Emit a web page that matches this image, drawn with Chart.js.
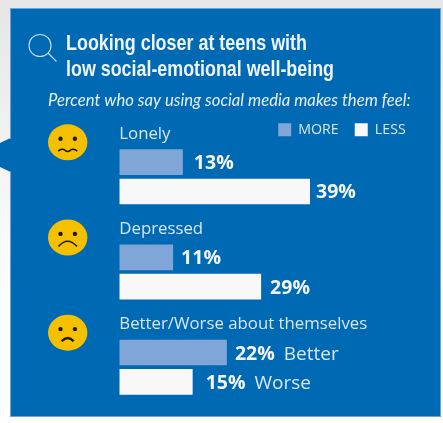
<!DOCTYPE html>
<html>
<head>
<meta charset="utf-8">
<title>Teens and social media</title>
<script src="https://cdn.jsdelivr.net/npm/chart.js@4"></script>
<style>
html, body { margin: 0; padding: 0; width: 443px; height: 423px; overflow: hidden; background: linear-gradient(#e6e6e6, #f4f4f4 40%, #ffffff 70%); }
canvas { display: block; }
</style>
</head>
<body>
<canvas id="teens" width="443" height="423"></canvas>
<script>
const titleLines = ['Looking closer at teens with', 'low social-emotional well-being'];
const subtitle = 'Percent who say using social media makes them feel:';
const categories = ['Lonely', 'Depressed', 'Better/Worse about themselves'];
const seriesNames = ['MORE', 'LESS'];
const moreValues = [13, 11, 22];
const lessValues = [39, 29, 15];
const moreNotes = ['', '', 'Better'];
const lessNotes = ['', '', 'Worse'];

const bodyFont = '"Open Sans", sans-serif';
const blue = '#0069b4';
const paleText = '#d9e7f4';
const moreColor = '#7fa6d6';
const lessColor = '#f8f8f8';
// gap between bar end and its label, it differs a bit per bar in the original
const moreGaps = [11, 8, 8];
const lessGaps = [6, 9, 13];

function drawFace(ctx, x, y, kind) {
    ctx.save();
    ctx.fillStyle = '#f5c000';
    ctx.beginPath();
    ctx.ellipse(x, y, 19.7, 18, 0, 0, Math.PI * 2);
    ctx.fill();
    ctx.fillStyle = '#1f1800';
    ctx.beginPath();
    ctx.arc(x - 7.2, y - 3.6, 2.2, 0, Math.PI * 2);
    ctx.arc(x + 7.2, y - 3.6, 2.2, 0, Math.PI * 2);
    ctx.fill();
    ctx.strokeStyle = '#1f1800';
    ctx.lineWidth = 1.6;
    ctx.beginPath();
    if (kind === 0) {
        ctx.moveTo(x - 9.5, y + 8.8);
        ctx.bezierCurveTo(x - 7, y + 6.4, x - 4, y + 6.8, x - 2.5, y + 8);
        ctx.bezierCurveTo(x - 1, y + 9.4, x + 1, y + 9.4, x + 2.5, y + 8);
        ctx.bezierCurveTo(x + 4, y + 6.8, x + 7, y + 6.4, x + 9.5, y + 8.8);
    } else if (kind === 1) {
        ctx.moveTo(x - 9.3, y + 9);
        ctx.quadraticCurveTo(x, y - 1.6, x + 9.3, y + 9);
    } else {
        ctx.lineWidth = 2.4;
        ctx.moveTo(x - 6, y + 8.5);
        ctx.quadraticCurveTo(x, y + 2, x + 6, y + 8.5);
    }
    ctx.stroke();
    ctx.restore();
}

const panelPlugin = {
    id: 'panel',
    beforeLayout(chart) {
        // legend sits over the plot, so it must not take room from it
        const fit = chart.legend.fit;
        chart.legend.fit = function () {
            fit.call(this);
            this.height = 0;
        };
    },
    afterLayout(chart) {
        chart.legend.top -= 22.5;
        chart.legend.bottom = chart.legend.top + 50;
        chart.legend.height = 50;
        chart.legend.left += 10;
        chart.legend.right += 10;
        // rounding in the row width can push the last item onto a new line
        chart.legend.lineWidths[0] += 1;
    },
    beforeDraw(chart) {
        const ctx = chart.ctx;
        ctx.save();
        ctx.fillStyle = blue;
        ctx.fillRect(10, 8, 431, 409);
        ctx.beginPath();
        ctx.moveTo(10.5, 138);
        ctx.lineTo(0, 143);
        ctx.lineTo(0, 167);
        ctx.lineTo(10.5, 172);
        ctx.closePath();
        ctx.fill();
        ctx.strokeStyle = '#6aa5d6';
        ctx.lineWidth = 1;
        ctx.strokeRect(10.5, 8.5, 430, 408);
        ctx.fillStyle = blue;
        ctx.fillRect(9, 139, 3, 32);

        // magnifier
        ctx.strokeStyle = '#c9dff1';
        ctx.lineWidth = 1.1;
        ctx.beginPath();
        ctx.arc(40, 45.5, 11, 0, Math.PI * 2);
        ctx.moveTo(48, 53);
        ctx.lineTo(56.5, 61.5);
        ctx.stroke();

        ctx.fillStyle = '#eef4fa';
        ctx.textBaseline = 'alphabetic';
        ctx.font = 'bold 22px "Liberation Sans", sans-serif';
        ctx.fillText(titleLines[0], 66, 50, 241);
        ctx.fillText(titleLines[1], 66, 76, 268);
        ctx.fillStyle = '#e6eff8';
        ctx.font = 'italic 16.7px Lato, sans-serif';
        ctx.fillText(subtitle, 48, 106);
        ctx.restore();
    },
    afterDatasetsDraw(chart) {
        const ctx = chart.ctx;
        const y = chart.scales.y;
        ctx.save();
        ctx.textBaseline = 'alphabetic';
        categories.forEach((name, i) => {
            const c = y.getPixelForValue(i);
            drawFace(ctx, 67.7, c - 34.5, i);
            ctx.fillStyle = paleText;
            ctx.font = '16.8px ' + bodyFont;
            ctx.fillText(name, chart.chartArea.left, c - 38);
        });
        [[moreValues, moreGaps, moreNotes], [lessValues, lessGaps, lessNotes]].forEach((set, d) => {
            chart.getDatasetMeta(d).data.forEach((bar, i) => {
                const text = set[0][i] + '%';
                const x = bar.x + set[1][i];
                const base = bar.y + 7;
                ctx.font = 'bold 19.5px ' + bodyFont;
                ctx.fillStyle = '#f2f6fb';
                ctx.fillText(text, x, base);
                if (set[2][i]) {
                    const w = ctx.measureText(text).width;
                    ctx.font = '19px ' + bodyFont;
                    ctx.fillStyle = paleText;
                    ctx.fillText(set[2][i], x + w + 9, base);
                }
            });
        });
        ctx.restore();
    }
};

new Chart(document.getElementById('teens').getContext('2d'), {
    type: 'bar',
    data: {
        labels: categories,
        datasets: [
            { label: seriesNames[0], data: moreValues, backgroundColor: moreColor, barPercentage: 0.874, categoryPercentage: 0.615 },
            { label: seriesNames[1], data: lessValues, backgroundColor: lessColor, barPercentage: 0.874, categoryPercentage: 0.615 }
        ]
    },
    options: {
        indexAxis: 'y',
        responsive: false,
        animation: false,
        devicePixelRatio: 1,
        layout: { padding: { left: 119.3, right: 30.3, top: 129.2, bottom: 8.2 } },
        scales: {
            x: { display: false, min: 0, max: 60 },
            y: { display: false }
        },
        plugins: {
            title: { display: false },
            tooltip: { enabled: false },
            legend: {
                position: 'top',
                align: 'end',
                labels: {
                    boxWidth: 13,
                    boxHeight: 13,
                    padding: 16,
                    color: paleText,
                    font: { family: 'Open Sans', size: 14.2 }
                }
            }
        }
    },
    plugins: [panelPlugin]
});
</script>
</body>
</html>
